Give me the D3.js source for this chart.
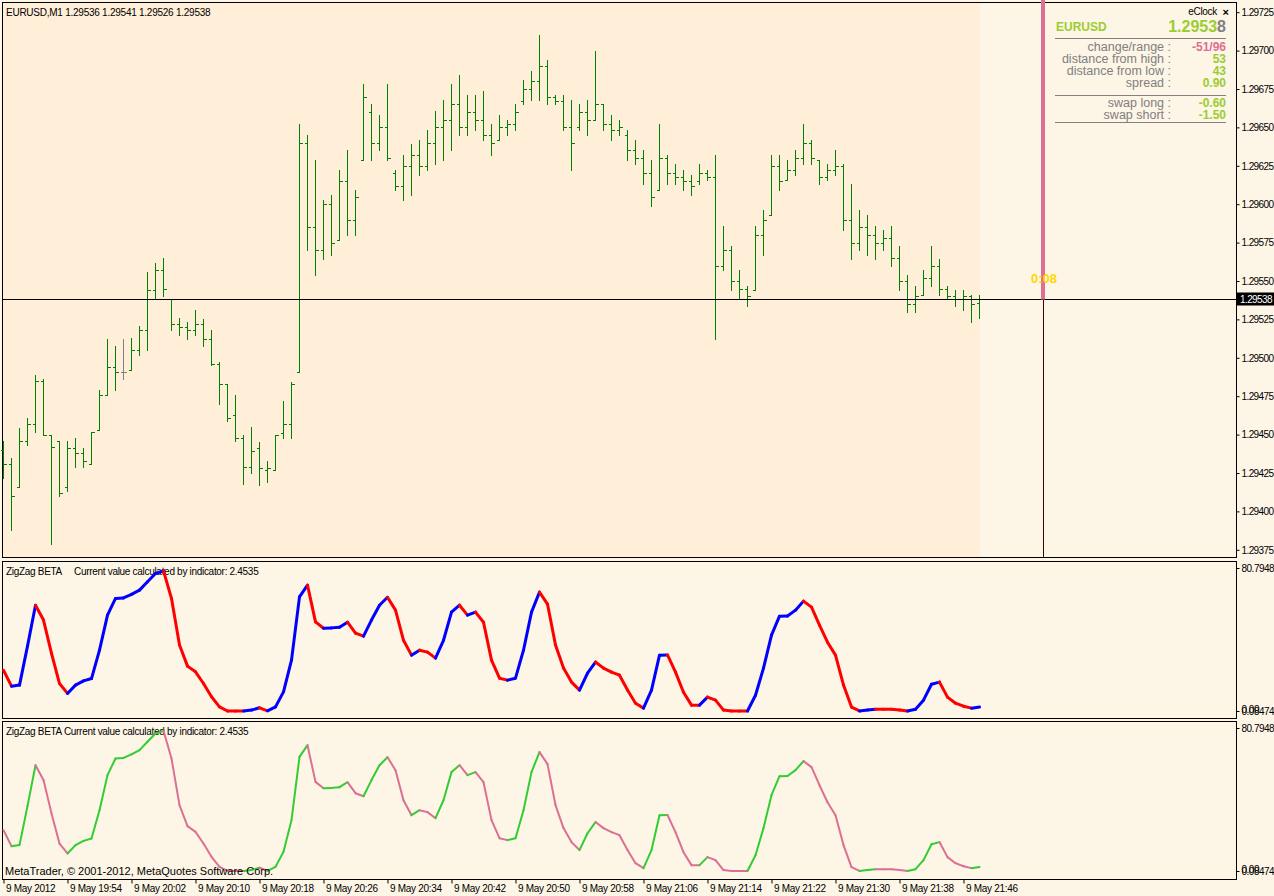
<!DOCTYPE html>
<html><head><meta charset="utf-8">
<script src="https://cdn.jsdelivr.net/npm/d3@7"></script>
<style>
html,body{margin:0;padding:0;background:#FDF5E6;}
svg{display:block;}
text{font-family:"Liberation Sans",Arial,sans-serif;}
</style></head><body>
<svg id="c" width="1274" height="896"></svg>
<script>
// ---------------- DATA ----------------
const symbolTitle = "EURUSD,M1  1.29536 1.29541 1.29526 1.29538";
const timeLabels = ["9 May 2012","9 May 19:54","9 May 20:02","9 May 20:10","9 May 20:18","9 May 20:26","9 May 20:34","9 May 20:42","9 May 20:50","9 May 20:58","9 May 21:06","9 May 21:14","9 May 21:22","9 May 21:30","9 May 21:38","9 May 21:46"];
const timeTickBars = [0,8,16,24,32,40,48,56,64,72,80,88,96,104,112,120];
const priceTicks = [1.29725,1.29700,1.29675,1.29650,1.29625,1.29600,1.29575,1.29550,1.29525,1.29500,1.29475,1.29450,1.29425,1.29400,1.29375];
const bidPrice = 1.29538;
const subTicks = [80.7948, 0.08474];

const open = [1.29440,1.29431,1.29416,1.29446,1.29457,1.29485,1.29450,1.29446,1.29416,1.29441,
1.29438,1.29431,1.29453,1.29476,1.29494,1.29491,1.29492,1.29505,1.29518,1.29544,
1.29557,1.29538,1.29522,1.29520,1.29518,1.29522,1.29512,1.29496,1.29483,1.29463,
1.29448,1.29429,1.29441,1.29427,1.29427,1.29451,1.29457,1.29491,1.29640,1.29585,
1.29570,1.29600,1.29577,1.29615,1.29590,1.29629,1.29660,1.29640,1.29650,1.29620,
1.29612,1.29625,1.29632,1.29625,1.29640,1.29650,1.29655,1.29665,1.29650,1.29660,
1.29655,1.29645,1.29642,1.29650,1.29652,1.29667,1.29675,1.29680,1.29690,1.29670,
1.29667,1.29650,1.29650,1.29660,1.29655,1.29665,1.29652,1.29648,1.29645,1.29635,
1.29630,1.29620,1.29609,1.29630,1.29620,1.29618,1.29615,1.29615,1.29620,1.29618,
1.29560,1.29570,1.29550,1.29545,1.29544,1.29580,1.29593,1.29625,1.29616,1.29622,
1.29630,1.29640,1.29629,1.29618,1.29622,1.29625,1.29590,1.29575,1.29585,1.29580,
1.29575,1.29578,1.29565,1.29550,1.29535,1.29541,1.29552,1.29560,1.29545,1.29540,
1.29538,1.29540,1.29536];
const high = [1.29446,1.29435,1.29454,1.29461,1.29489,1.29486,1.29450,1.29446,1.29446,1.29448,
1.29441,1.29452,1.29479,1.29512,1.29508,1.29512,1.29513,1.29521,1.29556,1.29562,
1.29565,1.29538,1.29526,1.29523,1.29531,1.29525,1.29518,1.29497,1.29483,1.29476,
1.29450,1.29455,1.29445,1.29433,1.29450,1.29472,1.29484,1.29652,1.29645,1.29629,
1.29603,1.29606,1.29622,1.29635,1.29609,1.29678,1.29665,1.29658,1.29678,1.29622,
1.29632,1.29639,1.29642,1.29648,1.29661,1.29668,1.29678,1.29684,1.29671,1.29671,
1.29674,1.29652,1.29658,1.29655,1.29665,1.29681,1.29687,1.29710,1.29694,1.29671,
1.29671,1.29668,1.29665,1.29668,1.29700,1.29665,1.29658,1.29655,1.29648,1.29642,
1.29635,1.29629,1.29652,1.29632,1.29626,1.29622,1.29619,1.29626,1.29622,1.29632,
1.29586,1.29573,1.29557,1.29547,1.29586,1.29596,1.29632,1.29632,1.29629,1.29635,
1.29652,1.29642,1.29629,1.29626,1.29635,1.29626,1.29613,1.29596,1.29593,1.29586,
1.29583,1.29586,1.29573,1.29554,1.29547,1.29557,1.29573,1.29564,1.29547,1.29544,
1.29544,1.29541,1.29541];
const low = [1.29422,1.29388,1.29416,1.29443,1.29452,1.29450,1.29379,1.29410,1.29413,1.29429,
1.29429,1.29431,1.29453,1.29476,1.29479,1.29486,1.29492,1.29502,1.29505,1.29538,
1.29540,1.29518,1.29515,1.29512,1.29515,1.29508,1.29495,1.29470,1.29459,1.29446,
1.29418,1.29425,1.29417,1.29419,1.29427,1.29448,1.29448,1.29491,1.29570,1.29554,
1.29564,1.29567,1.29577,1.29580,1.29580,1.29629,1.29629,1.29635,1.29629,1.29609,
1.29603,1.29606,1.29619,1.29622,1.29626,1.29629,1.29635,1.29645,1.29645,1.29648,
1.29642,1.29632,1.29642,1.29645,1.29648,1.29665,1.29668,1.29668,1.29665,1.29665,
1.29648,1.29622,1.29648,1.29645,1.29655,1.29648,1.29642,1.29645,1.29629,1.29626,
1.29613,1.29599,1.29609,1.29613,1.29613,1.29609,1.29606,1.29613,1.29616,1.29512,
1.29557,1.29544,1.29538,1.29534,1.29544,1.29567,1.29593,1.29609,1.29616,1.29619,
1.29626,1.29626,1.29613,1.29616,1.29619,1.29583,1.29564,1.29570,1.29567,1.29564,
1.29570,1.29560,1.29544,1.29530,1.29530,1.29541,1.29547,1.29541,1.29538,1.29534,
1.29531,1.29523,1.29526];
const close = [1.29431,1.29410,1.29446,1.29457,1.29485,1.29450,1.29442,1.29412,1.29441,1.29438,
1.29433,1.29452,1.29476,1.29494,1.29491,1.29491,1.29505,1.29518,1.29544,1.29557,
1.29545,1.29522,1.29520,1.29518,1.29522,1.29512,1.29496,1.29483,1.29461,1.29448,
1.29429,1.29439,1.29428,1.29428,1.29450,1.29457,1.29483,1.29640,1.29585,1.29570,
1.29600,1.29575,1.29615,1.29590,1.29605,1.29670,1.29640,1.29650,1.29630,1.29612,
1.29625,1.29632,1.29625,1.29640,1.29650,1.29655,1.29665,1.29650,1.29660,1.29655,
1.29645,1.29640,1.29650,1.29652,1.29660,1.29675,1.29680,1.29690,1.29670,1.29667,
1.29650,1.29640,1.29660,1.29655,1.29665,1.29652,1.29648,1.29650,1.29635,1.29630,
1.29620,1.29605,1.29630,1.29620,1.29618,1.29615,1.29612,1.29620,1.29618,1.29560,
1.29570,1.29550,1.29545,1.29540,1.29580,1.29590,1.29625,1.29615,1.29622,1.29630,
1.29640,1.29630,1.29618,1.29622,1.29625,1.29590,1.29575,1.29585,1.29580,1.29575,
1.29578,1.29565,1.29550,1.29535,1.29540,1.29552,1.29560,1.29545,1.29540,1.29538,
1.29540,1.29535,1.29538];
const zigzag = [23.1,14.1,14.7,36.7,59.8,51.4,32.6,15.6,10.0,14.7,
17.1,18.4,34.4,54.2,63.6,63.9,65.9,68.3,73.0,77.7,
79.2,63.6,37.3,25.4,22.2,15.6,8.1,2.4,0.1,0.1,
0.1,0.6,1.9,0.2,2.4,10.9,28.8,64.5,71.1,50.4,
46.8,47.0,47.4,50.2,44.0,42.3,51.4,59.8,64.3,57.0,
40.0,31.6,34.4,33.3,29.9,40.0,55.9,59.8,54.2,55.9,
50.2,28.8,18.6,17.5,18.6,34.4,55.9,67.2,60.4,37.3,
24.3,16.4,11.9,21.4,27.7,24.3,22.0,20.3,11.9,4.5,
1.7,11.9,31.6,31.7,22.0,10.7,3.4,3.4,7.9,6.2,
0.6,0.1,0.1,0.1,9.0,24.3,42.9,53.6,53.7,57.0,
62.1,58.7,48.5,38.9,31.6,14.7,2.3,0.1,0.6,1.1,
1.1,1.1,0.6,0.1,1.1,6.2,15.2,16.4,7.9,4.5,
2.8,1.7,2.3];

const clockRows = [["change/range :","-51/96"],["distance from high :","53"],["distance from low :","43"],["spread :","0.90"]];
const swapRows = [["swap long :","-0.60"],["swap short :","-1.50"]];

// ---------------- DRAW ----------------
const W = 1274, H = 896;
const svg = d3.select("#c");
svg.append("rect").attr("width", W).attr("height", H).attr("fill", "#FDF5E6");

const x = d3.scaleLinear().domain([0, open.length - 1]).range([3.5, 979.5]);
const y = d3.scaleLinear().domain([1.29375, 1.29725]).range([549.8, 12.2]);
const ys1 = d3.scaleLinear().domain([0.08474, 80.7948]).range([711, 568]);
const ys2 = d3.scaleLinear().domain([0.08474, 80.7948]).range([871, 728]);

const PLOT_R = 1236.5;

// shaded range
svg.append("rect").attr("x", 2).attr("y", 2).attr("width", x(open.length - 1) + 0.5 - 2).attr("height", 555).attr("fill", "#FFEED8");

// frames
function frame(y0, y1) {
  svg.append("rect").attr("x", 2.5).attr("y", y0).attr("width", PLOT_R - 2.5).attr("height", y1 - y0)
    .attr("fill", "none").attr("stroke", "#000").attr("stroke-width", 1);
}
frame(2.5, 557.5);
frame(561.5, 718.5);
frame(721.5, 879.5);

// header
svg.append("text").attr("x", 6).attr("y", 16).attr("font-size", "10px").attr("letter-spacing", "-0.25px").text(symbolTitle);

// bars
const gb = svg.append("g").attr("shape-rendering", "crispEdges");
const py = v => Math.round(y(v)) + 0.5;
open.forEach((o, i) => {
  const cx = Math.round(x(i) - 0.5) + 0.5;
  const col = o === close[i] ? "#808080" : "#008000";
  gb.append("line").attr("x1", cx).attr("x2", cx).attr("y1", py(high[i]) - 0.5).attr("y2", py(low[i]) + 0.5).attr("stroke", col);
  gb.append("line").attr("x1", cx - 3).attr("x2", cx).attr("y1", py(o)).attr("y2", py(o)).attr("stroke", col);
  gb.append("line").attr("x1", cx).attr("x2", cx + 3.5).attr("y1", py(close[i])).attr("y2", py(close[i])).attr("stroke", col);
});

// bid line
const by = py(bidPrice);
svg.append("line").attr("x1", 2).attr("x2", 1238).attr("y1", by).attr("y2", by).attr("stroke", "#000").attr("shape-rendering", "crispEdges");

// vertical line + pink time bar
svg.append("line").attr("x1", 1043.5).attr("x2", 1043.5).attr("y1", 2).attr("y2", 557).attr("stroke", "#400000").attr("shape-rendering", "crispEdges");
svg.append("rect").attr("x", 1041).attr("y", 0).attr("width", 4).attr("height", by).attr("fill", "#DB7093");
svg.append("text").attr("x", 1044).attr("y", 283).attr("text-anchor", "middle").attr("font-size", "13px").attr("font-weight", "bold").attr("fill", "#FFD700").text("0:08");

// price axis
const pAxis = d3.axisRight(y).tickValues(priceTicks).tickSize(3).tickPadding(2).tickFormat(d3.format(".5f"));
const ga = svg.append("g").attr("transform", `translate(${PLOT_R},0)`).call(pAxis);
ga.select(".domain").remove();
ga.selectAll("text").attr("font-size", "10px").attr("letter-spacing", "-0.6px").attr("font-family", "Liberation Sans, Arial, sans-serif").attr("fill", "#000");
ga.selectAll("line").attr("stroke", "#000");

// bid label
svg.append("rect").attr("x", 1237).attr("y", by - 7).attr("width", 37).attr("height", 13).attr("fill", "#000");
svg.append("text").attr("x", 1240).attr("y", by + 3.5).attr("font-size", "10px").attr("letter-spacing", "-0.6px").attr("fill", "#fff").text(d3.format(".5f")(bidPrice));

// eClock panel
svg.append("text").attr("x", 1217).attr("y", 15).attr("text-anchor", "end").attr("font-size", "10px").attr("letter-spacing", "-0.3px").text("eClock");
svg.append("text").attr("x", 1229).attr("y", 16).attr("text-anchor", "end").attr("font-size", "11px").attr("font-weight", "bold").text("×");
svg.append("text").attr("x", 1056).attr("y", 31).attr("font-size", "12px").attr("font-weight", "bold").attr("fill", "#9ACD32").text("EURUSD");
const pt = svg.append("text").attr("x", 1226).attr("y", 32).attr("text-anchor", "end").attr("font-size", "16px").attr("font-weight", "bold");
pt.append("tspan").attr("fill", "#9ACD32").text("1.2953");
pt.append("tspan").attr("fill", "#808080").text("8");
function sep(yy) {
  svg.append("line").attr("x1", 1055).attr("x2", 1226).attr("y1", yy).attr("y2", yy).attr("stroke", "#808080").attr("shape-rendering", "crispEdges");
}
sep(38.5); sep(95.5); sep(122.5);
clockRows.forEach((r, k) => {
  const yy = 51 + 12 * k;
  svg.append("text").attr("x", 1171).attr("y", yy).attr("text-anchor", "end").attr("font-size", "12.5px").attr("fill", "#808080").text(r[0]);
  svg.append("text").attr("x", 1226).attr("y", yy).attr("text-anchor", "end").attr("font-size", "12px").attr("font-weight", "bold").attr("fill", k === 0 ? "#DB7093" : "#9ACD32").text(r[1]);
});
swapRows.forEach((r, k) => {
  const yy = 107 + 12 * k;
  svg.append("text").attr("x", 1171).attr("y", yy).attr("text-anchor", "end").attr("font-size", "12.5px").attr("fill", "#808080").text(r[0]);
  svg.append("text").attr("x", 1226).attr("y", yy).attr("text-anchor", "end").attr("font-size", "12px").attr("font-weight", "bold").attr("fill", "#9ACD32").text(r[1]);
});

// sub windows
function subAxis(sc) {
  const a = d3.axisRight(sc).tickValues(subTicks).tickSize(3).tickPadding(2).tickFormat(d => d === 80.7948 ? "80.7948" : "0.08474");
  const g = svg.append("g").attr("transform", `translate(${PLOT_R},0)`).call(a);
  g.select(".domain").remove();
  g.selectAll("text").attr("font-size", "10px").attr("letter-spacing", "-0.5px").attr("font-family", "Liberation Sans, Arial, sans-serif").attr("fill", "#000");
  g.selectAll("line").attr("stroke", "#000");
  svg.append("text").attr("x", PLOT_R + 5).attr("y", sc(0) + 2).attr("font-size", "10px").attr("letter-spacing", "-0.5px").text("0.00");
}
subAxis(ys1);
subAxis(ys2);

svg.append("text").attr("x", 6).attr("y", 575).attr("font-size", "10px").attr("letter-spacing", "-0.3px").text("ZigZag BETA");
svg.append("text").attr("x", 74).attr("y", 575).attr("font-size", "10px").attr("letter-spacing", "-0.3px").text("Current value calculated by indicator: 2.4535");
svg.append("text").attr("x", 6).attr("y", 735).attr("font-size", "10px").attr("letter-spacing", "-0.3px").text("ZigZag BETA Current value calculated by indicator: 2.4535");

function zz(sc, up, down, w) {
  const g = svg.append("g");
  for (let i = 1; i < zigzag.length; i++) {
    g.append("line").attr("x1", x(i - 1)).attr("y1", sc(zigzag[i - 1])).attr("x2", x(i)).attr("y2", sc(zigzag[i]))
      .attr("stroke", zigzag[i] > zigzag[i - 1] ? up : down).attr("stroke-width", w).attr("stroke-linecap", "round");
  }
}
zz(ys1, "#0000FF", "#FF0000", 3);
zz(ys2, "#32CD32", "#DB7093", 2);

svg.append("text").attr("x", 5).attr("y", 875).attr("font-size", "11px").text("MetaTrader, © 2001-2012, MetaQuotes Software Corp.");

// time axis
const tAxis = d3.axisBottom(x).tickValues(timeTickBars).tickSize(4).tickPadding(1).tickFormat((d, i) => timeLabels[i]);
const gt = svg.append("g").attr("transform", "translate(0,879.5)").call(tAxis);
gt.select(".domain").remove();
gt.selectAll("text").attr("text-anchor", "start").attr("x", 2).attr("font-size", "10px").attr("letter-spacing", "-0.3px").attr("font-family", "Liberation Sans, Arial, sans-serif").attr("fill", "#000");
gt.selectAll("line").attr("stroke", "#000");
</script>
</body></html>
